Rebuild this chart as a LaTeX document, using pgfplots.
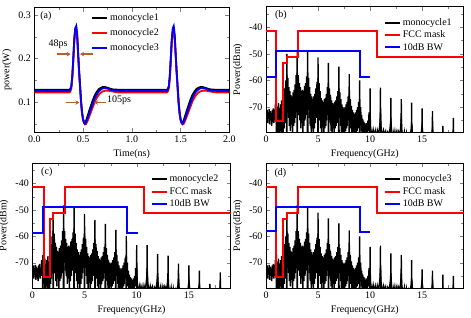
\documentclass[border=0pt]{standalone}
\usepackage{fontspec}
\setmainfont{Liberation Serif}
\usepackage{pgfplots}
\usepackage{pgfplotstable}
\pgfplotsset{compat=1.18}
\usetikzlibrary{arrows.meta}
\definecolor{arrbrown}{RGB}{170,100,50}
\definecolor{pred}{RGB}{255,0,0}
\definecolor{pblue}{RGB}{0,0,255}

\pgfplotstableread{
x y
0.00 -72.5
0.05 -75.5
0.10 -71.0
0.15 -76.0
0.20 -72.0
0.25 -74.5
0.30 -70.8
0.35 -76.5
0.40 -71.5
0.45 -75.0
0.50 -72.2
0.55 -77.0
0.60 -71.0
0.65 -75.5
0.70 -70.5
0.75 -76.0
0.80 -71.8
0.85 -75.0
0.90 -69.0
0.95 -74.0
1.00 -69.5
1.05 -78.0
1.10 -70.0
1.15 -80.0
1.20 -68.5
1.25 -82.0
1.30 -70.5
1.35 -79.0
1.40 -69.0
1.45 -82.0
1.50 -67.5
1.55 -80.0
1.60 -70.0
1.65 -82.0
1.70 -66.0
1.75 -78.0
1.80 -63.0
1.85 -76.0
1.90 -60.0
1.95 -74.0
2.00 -58.0
2.05 -72.0
2.10 -59.0
2.15 -74.0
2.20 -62.5
2.25 -77.0
2.30 -64.0
2.35 -79.0
2.40 -65.5
2.45 -76.0
2.50 -66.0
2.55 -80.0
2.60 -64.5
2.65 -77.0
2.70 -63.5
2.75 -76.0
2.80 -61.5
2.85 -74.0
2.90 -58.0
2.95 -72.0
3.00 -57.0
3.05 -70.0
3.10 -58.0
3.15 -73.0
3.20 -61.0
3.25 -75.0
3.30 -62.5
3.35 -78.0
3.40 -64.0
3.45 -76.0
3.50 -63.5
3.55 -80.0
3.60 -64.0
3.65 -77.0
3.70 -62.0
3.75 -75.0
3.80 -61.0
3.85 -73.0
3.90 -58.5
3.95 -71.0
4.00 -57.0
4.05 -71.0
4.10 -59.0
4.15 -74.0
4.20 -62.5
4.25 -77.0
4.30 -65.0
4.35 -80.0
4.40 -66.0
4.45 -78.0
4.50 -67.0
4.55 -81.0
4.60 -66.0
4.65 -78.0
4.70 -65.0
4.75 -76.0
4.80 -63.0
4.85 -74.0
4.90 -60.5
4.95 -72.0
5.00 -59.0
5.05 -72.0
5.10 -61.0
5.15 -75.0
5.20 -64.0
5.25 -78.0
5.30 -66.5
5.35 -81.0
5.40 -67.5
5.45 -77.0
5.50 -68.0
5.55 -82.0
5.60 -67.0
5.65 -78.0
5.70 -66.5
5.75 -77.0
5.80 -65.0
5.85 -75.0
5.90 -62.5
5.95 -73.0
6.00 -61.0
6.05 -73.0
6.10 -63.0
6.15 -76.0
6.20 -65.5
6.25 -79.0
6.30 -67.5
6.35 -82.0
6.40 -68.5
6.45 -78.0
6.50 -69.0
6.55 -81.0
6.60 -68.0
6.65 -78.0
6.70 -67.5
6.75 -77.0
6.80 -66.0
6.85 -76.0
6.90 -64.0
6.95 -74.0
7.00 -63.0
7.05 -74.0
7.10 -64.5
7.15 -77.0
7.20 -67.0
7.25 -80.0
7.30 -69.0
7.35 -82.0
7.40 -70.0
7.45 -79.0
7.50 -70.5
7.55 -82.0
7.60 -70.0
7.65 -79.0
7.70 -69.0
7.75 -78.0
7.80 -68.0
7.85 -77.0
7.90 -66.0
7.95 -75.0
8.00 -65.0
8.05 -75.0
8.10 -67.0
8.15 -78.0
8.20 -69.5
8.25 -81.0
8.30 -71.0
8.35 -82.0
8.40 -72.0
8.45 -80.0
8.50 -72.5
8.55 -82.0
8.60 -72.0
8.65 -80.0
8.70 -71.0
8.75 -79.0
8.80 -70.0
8.85 -78.0
8.90 -68.0
8.95 -76.0
9.00 -67.0
9.05 -77.0
9.10 -70.0
9.15 -79.0
9.20 -73.0
9.25 -81.0
9.30 -74.5
9.35 -82.0
9.40 -75.5
9.45 -80.0
9.50 -76.0
9.55 -82.0
9.60 -76.5
9.65 -80.5
9.70 -76.0
9.75 -80.0
9.80 -75.0
9.85 -79.0
9.90 -72.0
9.95 -78.0
10.00 -72.0
10.05 -77.5
10.10 -79.0
10.20 -80.5
10.30 -78.5
10.40 -81.0
10.50 -79.0
10.60 -82.0
10.70 -78.8
10.80 -80.5
10.90 -78.0
10.95 -76.0
11.00 -72.0
11.05 -77.0
11.10 -79.0
11.20 -81.0
11.30 -78.8
11.40 -80.5
11.50 -79.2
11.60 -82.0
11.70 -79.5
11.80 -80.5
11.90 -78.5
11.95 -77.0
12.00 -74.0
12.05 -78.0
12.10 -79.5
12.20 -81.0
12.30 -79.0
12.40 -82.0
12.50 -79.3
12.60 -81.5
12.70 -79.0
12.80 -80.0
12.90 -79.0
12.95 -77.5
13.00 -74.0
13.05 -78.5
13.10 -80.0
13.20 -82.0
13.30 -79.5
13.40 -83.0
13.50 -80.0
13.60 -83.0
13.70 -80.5
13.80 -82.0
13.90 -79.5
13.95 -78.5
14.00 -76.0
14.05 -79.0
14.10 -81.0
14.30 -83.0
14.50 -81.0
14.70 -83.0
14.90 -80.5
15.00 -77.0
15.10 -81.0
15.30 -84.0
15.50 -82.0
15.70 -84.0
15.90 -81.0
16.00 -78.0
16.10 -82.0
16.50 -84.0
16.90 -82.0
17.00 -80.0
17.10 -83.0
17.50 -85.0
17.90 -82.0
18.00 -79.0
18.10 -83.0
18.50 -85.0
19.00 -85.0
}\noisetable

\pgfplotstableread{
x y
0.97 -90
1.00 -66.0
1.03 -90
1.97 -90
2.00 -50.0
2.03 -90
2.97 -90
3.00 -48.8
3.03 -90
3.97 -90
4.00 -49.2
4.03 -90
4.97 -90
5.00 -51.3
5.03 -90
5.97 -90
6.00 -53.4
6.03 -90
6.97 -90
7.00 -54.8
7.03 -90
7.97 -90
8.00 -57.6
8.03 -90
8.97 -90
9.00 -60.0
9.03 -90
9.97 -90
10.00 -63.0
10.03 -90
10.97 -90
11.00 -62.7
11.03 -90
11.97 -90
12.00 -66.5
12.03 -90
12.97 -90
13.00 -67.0
13.03 -90
13.97 -90
14.00 -68.3
14.03 -90
14.97 -90
15.00 -70.5
15.03 -90
15.97 -90
16.00 -71.5
16.03 -90
16.97 -90
17.00 -77.0
17.03 -90
17.97 -90
18.00 -74.0
18.03 -90
}\spikesb

\pgfplotstableread{
x y
0.97 -90
1.00 -67.0
1.03 -90
1.97 -90
2.00 -52.0
2.03 -90
2.97 -90
3.00 -48.3
3.03 -90
3.97 -90
4.00 -48.9
4.03 -90
4.97 -90
5.00 -51.5
5.03 -90
5.97 -90
6.00 -53.8
6.03 -90
6.97 -90
7.00 -55.3
7.03 -90
7.97 -90
8.00 -57.6
8.03 -90
8.97 -90
9.00 -59.8
9.03 -90
9.97 -90
10.00 -63.3
10.03 -90
10.97 -90
11.00 -63.3
11.03 -90
11.97 -90
12.00 -66.7
12.03 -90
12.97 -90
13.00 -67.3
13.03 -90
13.97 -90
14.00 -70.4
14.03 -90
14.97 -90
15.00 -71.0
15.03 -90
15.97 -90
16.00 -73.0
16.03 -90
16.97 -90
17.00 -78.0
17.03 -90
17.97 -90
18.00 -73.7
18.03 -90
}\spikesc

\pgfplotstableread{
x y
0.97 -90
1.00 -67.0
1.03 -90
1.97 -90
2.00 -53.0
2.03 -90
2.97 -90
3.00 -48.1
3.03 -90
3.97 -90
4.00 -48.8
4.03 -90
4.97 -90
5.00 -51.0
5.03 -90
5.97 -90
6.00 -53.2
6.03 -90
6.97 -90
7.00 -55.1
7.03 -90
7.97 -90
8.00 -57.7
8.03 -90
8.97 -90
9.00 -60.0
9.03 -90
9.97 -90
10.00 -64.0
10.03 -90
10.97 -90
11.00 -63.5
11.03 -90
11.97 -90
12.00 -66.5
12.03 -90
12.97 -90
13.00 -67.0
13.03 -90
13.97 -90
14.00 -69.0
14.03 -90
14.97 -90
15.00 -72.5
15.03 -90
15.97 -90
16.00 -73.0
16.03 -90
16.97 -90
17.00 -74.5
17.03 -90
17.97 -90
18.00 -75.0
18.03 -90
}\spikesd

\pgfplotsset{
  every axis/.append style={
    scale only axis,
    font=\fontsize{10}{12}\selectfont,
    tick label style={font=\fontsize{10}{12}\selectfont},
    label style={font=\fontsize{10}{12}\selectfont},
    /pgf/number format/assume math mode=true,
    tick align=inside,
    axis line style={line width=0.7pt},
    major tick length=4pt, minor tick length=2.5pt,
    legend cell align=left,
    legend image code/.code={\draw[#1,line width=2pt] (0pt,0pt) -- (15pt,0pt);},
  },
  spec/.style={
    xmin=0, xmax=19, ymin=-79.6, ymax=-32.3,
    xtick={0,5,10,15}, minor xtick={2.5,7.5,12.5,17.5},
    ytick={-70,-60,-50,-40}, minor ytick={-75,-65,-55,-45,-35},
    xlabel={Frequency(GHz)}, ylabel={Power(dBm)},
    legend style={at={(rel axis cs:0.595,0.925)}, anchor=north west, draw=none, fill=none, row sep=0pt, inner sep=0pt},
  },
  redl/.style={draw=pred, line width=2pt},
  bluel/.style={draw=pblue, line width=2pt},
  blackl/.style={draw=black, line width=1.4pt},
}

\begin{document}
\begin{tikzpicture}
\useasboundingbox (0pt,0pt) rectangle (471pt,318pt);

% (a)
\begin{axis}[at={(34.3pt,185.7pt)}, anchor=south west, width=195pt, height=124.6pt,
  xmin=0, xmax=2, ymin=0.03, ymax=0.317,
  xtick={0,0.5,1,1.5,2}, minor xtick={0.25,0.75,1.25,1.75},
  ytick={0.1,0.2,0.3}, minor ytick={0.05,0.15,0.25},
  xticklabel style={/pgf/number format/fixed, /pgf/number format/fixed zerofill, /pgf/number format/precision=1},
  yticklabel style={/pgf/number format/fixed, /pgf/number format/fixed zerofill, /pgf/number format/precision=1},
  xlabel={Time(ns)}, ylabel={power(W)},
  legend style={at={(rel axis cs:0.29,0.97)}, anchor=north west, draw=none, fill=none, row sep=2.5pt, inner sep=0pt},
]
\addplot[draw=black, line width=1.8pt] coordinates {(0,0.128)(0.36,0.128)(0.37,0.130)(0.38,0.137)(0.39,0.16)(0.40,0.20)(0.41,0.243)(0.42,0.268)(0.43,0.27)(0.44,0.252)(0.45,0.21)(0.46,0.17)(0.47,0.135)(0.48,0.10)(0.49,0.076)(0.50,0.061)(0.51,0.054)(0.52,0.053)(0.53,0.056)(0.54,0.063)(0.56,0.077)(0.58,0.091)(0.60,0.104)(0.62,0.115)(0.64,0.123)(0.66,0.129)(0.68,0.132)(0.70,0.134)(0.73,0.134)(0.76,0.132)(0.80,0.129)(0.86,0.128)
(1.36,0.128)(1.37,0.130)(1.38,0.137)(1.39,0.16)(1.40,0.20)(1.41,0.243)(1.42,0.262)(1.43,0.265)(1.44,0.25)(1.45,0.21)(1.46,0.17)(1.47,0.135)(1.48,0.10)(1.49,0.076)(1.50,0.061)(1.51,0.054)(1.52,0.053)(1.53,0.056)(1.54,0.063)(1.56,0.077)(1.58,0.091)(1.60,0.104)(1.62,0.115)(1.64,0.123)(1.66,0.129)(1.68,0.132)(1.70,0.134)(1.73,0.134)(1.76,0.132)(1.80,0.129)(1.86,0.128)(2.0,0.128)};
\addlegendentry{monocycle1}
\addplot[draw=pred, line width=1.8pt] coordinates {(0,0.122)(0.36,0.122)(0.37,0.124)(0.38,0.131)(0.39,0.155)(0.40,0.195)(0.41,0.24)(0.42,0.265)(0.43,0.27)(0.44,0.25)(0.45,0.205)(0.46,0.165)(0.47,0.13)(0.48,0.096)(0.49,0.072)(0.50,0.058)(0.51,0.051)(0.52,0.048)(0.53,0.049)(0.54,0.053)(0.56,0.064)(0.58,0.076)(0.60,0.088)(0.62,0.10)(0.64,0.109)(0.66,0.116)(0.68,0.121)(0.70,0.124)(0.73,0.126)(0.76,0.126)(0.80,0.124)(0.86,0.122)
(1.36,0.122)(1.37,0.124)(1.38,0.131)(1.39,0.155)(1.40,0.195)(1.41,0.235)(1.42,0.258)(1.43,0.262)(1.44,0.245)(1.45,0.205)(1.46,0.165)(1.47,0.13)(1.48,0.096)(1.49,0.072)(1.50,0.058)(1.51,0.051)(1.52,0.048)(1.53,0.049)(1.54,0.053)(1.56,0.064)(1.58,0.076)(1.60,0.088)(1.62,0.10)(1.64,0.109)(1.66,0.116)(1.68,0.121)(1.70,0.124)(1.73,0.126)(1.76,0.126)(1.80,0.124)(1.86,0.122)(2.0,0.122)};
\addlegendentry{monocycle2}
\addplot[draw=pblue, line width=1.8pt] coordinates {(0,0.125)(0.36,0.125)(0.37,0.128)(0.38,0.135)(0.39,0.16)(0.40,0.20)(0.41,0.245)(0.42,0.27)(0.43,0.275)(0.44,0.255)(0.45,0.21)(0.46,0.17)(0.47,0.135)(0.48,0.10)(0.49,0.075)(0.50,0.06)(0.51,0.052)(0.52,0.05)(0.53,0.052)(0.54,0.058)(0.56,0.07)(0.58,0.083)(0.60,0.096)(0.62,0.108)(0.64,0.117)(0.66,0.124)(0.68,0.128)(0.70,0.131)(0.72,0.132)(0.75,0.131)(0.78,0.128)(0.82,0.126)(0.90,0.125)
(1.36,0.125)(1.37,0.128)(1.38,0.135)(1.39,0.16)(1.40,0.20)(1.41,0.245)(1.42,0.27)(1.43,0.275)(1.44,0.255)(1.45,0.21)(1.46,0.17)(1.47,0.135)(1.48,0.10)(1.49,0.075)(1.50,0.06)(1.51,0.052)(1.52,0.05)(1.53,0.052)(1.54,0.058)(1.56,0.07)(1.58,0.083)(1.60,0.096)(1.62,0.108)(1.64,0.117)(1.66,0.124)(1.68,0.128)(1.70,0.131)(1.72,0.132)(1.75,0.131)(1.78,0.128)(1.82,0.126)(1.90,0.125)(2.0,0.125)};
\addlegendentry{monocycle3}
\draw[-{Stealth[length=4pt,width=4.5pt]}, draw=arrbrown, fill=arrbrown, line width=1.5pt] (axis cs:0.236,0.21) -- (axis cs:0.373,0.21);
\draw[-{Stealth[length=4pt,width=4.5pt]}, draw=arrbrown, fill=arrbrown, line width=1.5pt] (axis cs:0.600,0.21) -- (axis cs:0.469,0.21);
\draw[-{Stealth[length=4pt,width=4.5pt]}, draw=arrbrown, fill=arrbrown, line width=1.5pt] (axis cs:0.322,0.0986) -- (axis cs:0.462,0.0986);
\draw[-{Stealth[length=4pt,width=4.5pt]}, draw=arrbrown, fill=arrbrown, line width=1.5pt] (axis cs:0.735,0.0986) -- (axis cs:0.613,0.0986);
\node[anchor=center, inner sep=0pt] at (axis cs:0.243,0.233) {48ps};
\node[anchor=west, inner sep=0pt] at (axis cs:0.745,0.104) {105ps};
\node[anchor=west, inner sep=0pt] at (rel axis cs:0.03,0.935) {(a)};
\end{axis}

% (b)
\begin{axis}[spec, at={(266pt,185.3pt)}, anchor=south west, width=197.7pt, height=126pt]
\addplot[blackl] table {\noisetable};
\addlegendentry{monocycle1}
\addplot[blackl, forget plot] table {\spikesb};
\addplot[redl] coordinates {(0,-41.3)(0.96,-41.3)(0.96,-75.3)(1.65,-75.3)(1.65,-53.3)(1.99,-53.3)(1.99,-51.3)(3.08,-51.3)(3.08,-41.3)(10.65,-41.3)(10.65,-51.3)(19,-51.3)};
\addlegendentry{FCC mask}
\addplot[bluel] coordinates {(0,-58.8)(1.0,-58.8)(1.0,-48.8)(9.0,-48.8)(9.0,-58.8)(10.0,-58.8)};
\addlegendentry{10dB BW}
\node[anchor=west, inner sep=0pt] at (rel axis cs:0.045,0.935) {(b)};
\end{axis}

% (c)
\begin{axis}[spec, at={(32.3pt,30pt)}, anchor=south west, width=198.4pt, height=124.7pt]
\addplot[blackl] table {\noisetable};
\addlegendentry{monocycle2}
\addplot[blackl, forget plot] table {\spikesc};
\addplot[redl] coordinates {(0,-41.3)(1.1,-41.3)(1.1,-75.3)(1.7,-75.3)(1.7,-53.3)(2.02,-53.3)(2.02,-51.3)(3.15,-51.3)(3.15,-41.3)(10.65,-41.3)(10.65,-51.3)(19,-51.3)};
\addlegendentry{FCC mask}
\addplot[bluel] coordinates {(0,-58.7)(1.05,-58.7)(1.05,-48.8)(9.1,-48.8)(9.1,-58.7)(10.1,-58.7)};
\addlegendentry{10dB BW}
\node[anchor=west, inner sep=0pt] at (rel axis cs:0.044,0.93) {(c)};
\end{axis}

% (d)
\begin{axis}[spec, at={(266pt,30pt)}, anchor=south west, width=197.7pt, height=124.7pt]
\addplot[blackl] table {\noisetable};
\addlegendentry{monocycle3}
\addplot[blackl, forget plot] table {\spikesd};
\addplot[redl] coordinates {(0,-41.3)(0.98,-41.3)(0.98,-75.3)(1.66,-75.3)(1.66,-53.3)(1.99,-53.3)(1.99,-51.3)(3.08,-51.3)(3.08,-41.3)(10.65,-41.3)(10.65,-51.3)(19,-51.3)};
\addlegendentry{FCC mask}
\addplot[bluel] coordinates {(0,-57.9)(0.98,-57.9)(0.98,-48.8)(9.0,-48.8)(9.0,-58.2)(10.0,-58.2)};
\addlegendentry{10dB BW}
\node[anchor=west, inner sep=0pt] at (rel axis cs:0.042,0.925) {(d)};
\end{axis}
\end{tikzpicture}
\end{document}
